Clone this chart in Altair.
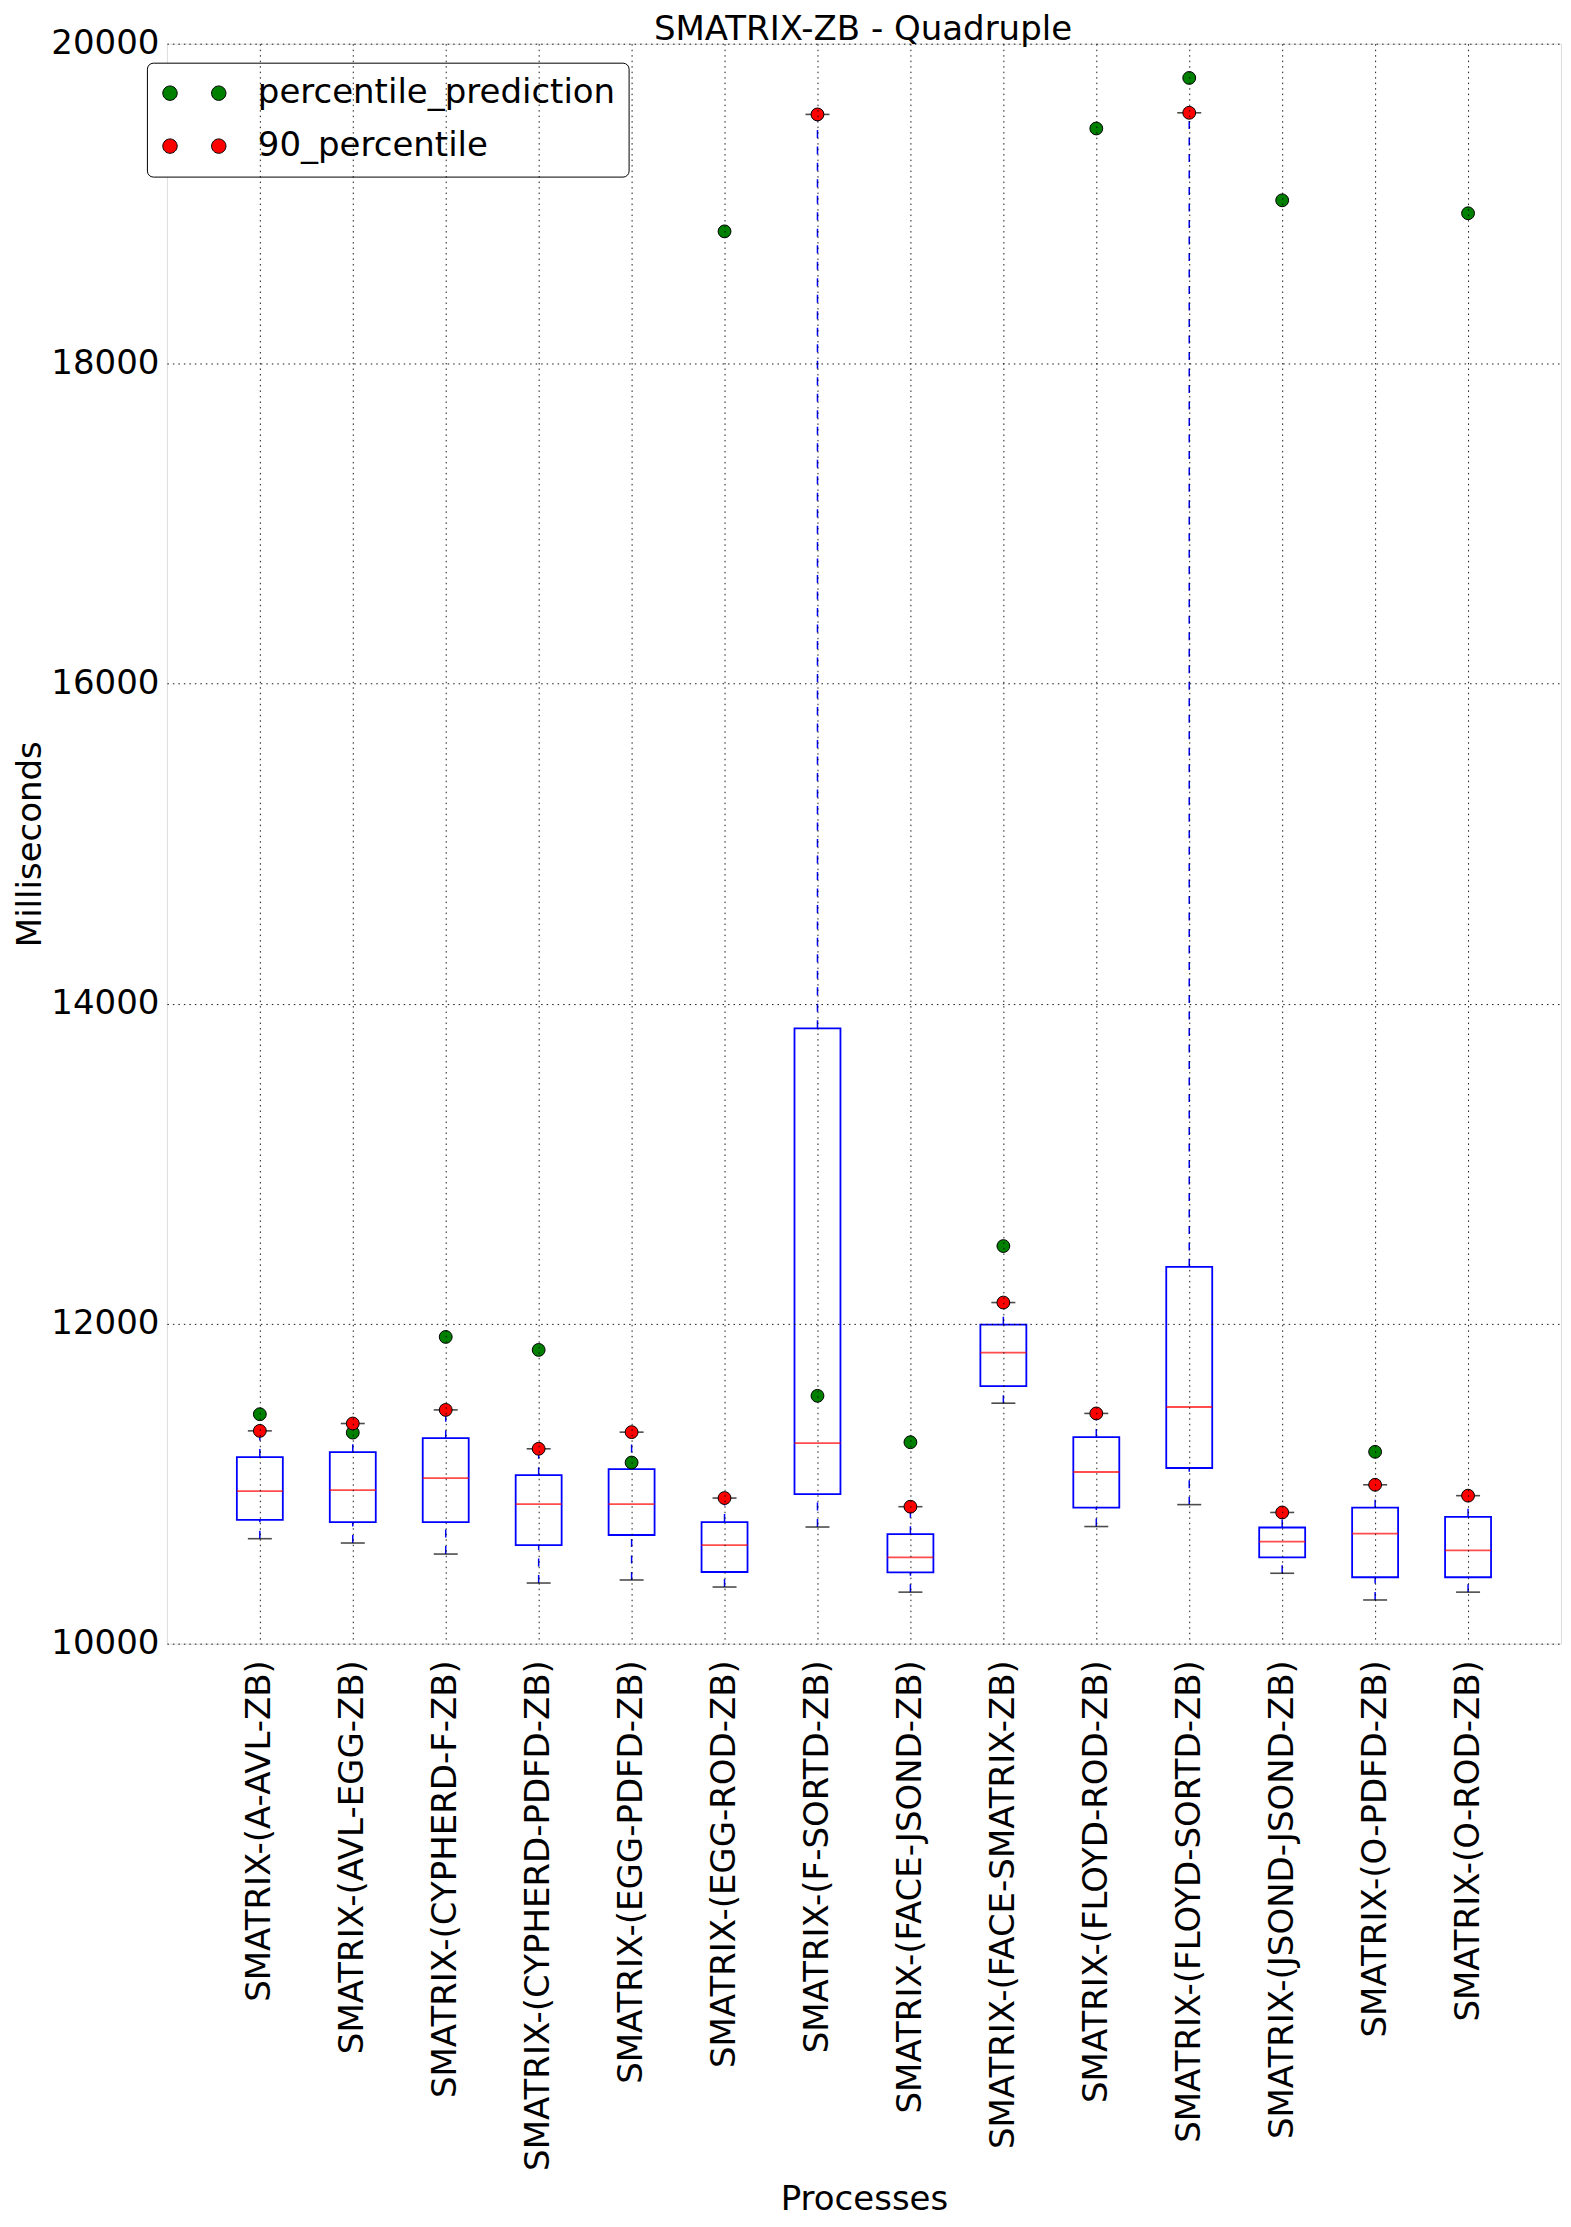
import altair as alt
import pandas as pd

chart_title = "SMATRIX-ZB - Quadruple"
categories = [
    "SMATRIX-(A-AVL-ZB)", "SMATRIX-(AVL-EGG-ZB)", "SMATRIX-(CYPHERD-F-ZB)",
    "SMATRIX-(CYPHERD-PDFD-ZB)", "SMATRIX-(EGG-PDFD-ZB)", "SMATRIX-(EGG-ROD-ZB)",
    "SMATRIX-(F-SORTD-ZB)", "SMATRIX-(FACE-JSOND-ZB)", "SMATRIX-(FACE-SMATRIX-ZB)",
    "SMATRIX-(FLOYD-ROD-ZB)", "SMATRIX-(FLOYD-SORTD-ZB)", "SMATRIX-(JSOND-JSOND-ZB)",
    "SMATRIX-(O-PDFD-ZB)", "SMATRIX-(O-ROD-ZB)",
]
whisker_low = [10656, 10629, 10560, 10379, 10398, 10354, 10729, 10322, 11503, 10732, 10869, 10440, 10273, 10322]
q1 = [10774, 10760, 10760, 10616, 10679, 10448, 10935, 10446, 11609, 10850, 11098, 10539, 10415, 10415]
median = [10953, 10960, 11034, 10872, 10872, 10616, 11253, 10539, 11819, 11073, 11479, 10638, 10688, 10583]
q3 = [11166, 11197, 11284, 11053, 11091, 10760, 13846, 10684, 11994, 11291, 12355, 10726, 10850, 10793]
p90 = [11330, 11376, 11461, 11218, 11322, 10910, 19558, 10856, 12132, 11439, 19568, 10820, 10993, 10925]
prediction = [11434, 11319, 11917, 11836, 11132, 18827, 11549, 11259, 12485, 19470, 19786, 19021, 11199, 18940]
series_names = ["percentile_prediction", "90_percentile"]
series_colors = ["#008000", "#ff0000"]
y_ticks = [10000, 12000, 14000, 16000, 18000, 20000]

FONT = "DejaVu Sans"
FS = 34
W, H = 1395, 1601

box_df = pd.DataFrame({
    "process": categories, "low": whisker_low, "q1": q1,
    "median": median, "q3": q3, "p90": p90,
})
pts_df = pd.DataFrame({
    "process": categories + categories,
    "value": prediction + p90,
    "series": [series_names[0]] * len(categories) + [series_names[1]] * len(categories),
})
title_df = pd.DataFrame({"t": [chart_title]})

x_enc = alt.X(
    "process:N", sort=categories,
    scale=alt.Scale(type="point", padding=1),
    axis=alt.Axis(
        title="Processes", labelAngle=-90, labelPadding=16, tickSize=0,
        labelLimit=0, labelOverlap=False, domain=False, grid=True,
        gridColor="black", gridDash=[1.5, 4], gridWidth=1, gridOpacity=0.9,
        labelFont=FONT, labelFontSize=FS, labelColor="black",
        titleFont=FONT, titleFontSize=FS, titleFontWeight="normal",
        titleColor="black", titleBaseline="alphabetic", titleY=566,
        titleX=W / 2, zindex=1,
    ),
)
y_scale = alt.Scale(domain=[10000, 20000], nice=False, zero=False)
y_axis = alt.Axis(
    title="Milliseconds", values=y_ticks, format="d", labelPadding=8,
    tickSize=0, domain=False, grid=True, gridColor="black",
    gridDash=[1.5, 4], gridWidth=1, gridOpacity=0.9,
    labelFont=FONT, labelFontSize=FS, labelColor="black",
    titleFont=FONT, titleFontSize=FS, titleFontWeight="normal",
    titleColor="black", titleBaseline="alphabetic", titleAngle=270,
    titleX=-126, titleY=H / 2, zindex=1,
)

base = alt.Chart(box_df)

lower_whisker = base.mark_rule(color="#0000ff", strokeWidth=1.5, strokeDash=[8, 8.5]).encode(
    x=x_enc, y=alt.Y("low:Q", scale=y_scale, axis=y_axis), y2="q1:Q")
upper_whisker = base.mark_rule(color="#0000ff", strokeWidth=1.5, strokeDash=[8, 8.5]).encode(
    x=x_enc, y=alt.Y("q3:Q", scale=y_scale, axis=y_axis), y2="p90:Q")
boxes = base.mark_bar(size=46, color="#0000ff", fillOpacity=0, stroke="#0000ff", strokeWidth=1.8).encode(
    x=x_enc, y=alt.Y("q1:Q", scale=y_scale, axis=y_axis), y2="q3:Q")
medians = base.mark_tick(color="#ff0000", size=46, thickness=1.8).encode(
    x=x_enc, y=alt.Y("median:Q", scale=y_scale, axis=y_axis))
low_caps = base.mark_tick(color="black", size=24, thickness=1.6).encode(
    x=x_enc, y=alt.Y("low:Q", scale=y_scale, axis=y_axis))
high_caps = base.mark_tick(color="black", size=24, thickness=1.6).encode(
    x=x_enc, y=alt.Y("p90:Q", scale=y_scale, axis=y_axis))

# two dots per legend entry (matplotlib numpoints=2 look)
two_dots = ("M -1.8585 0 A 0.4235 0.4235 0 1 0 -1.0115 0 A 0.4235 0.4235 0 1 0 -1.8585 0 Z "
            "M 1.0115 0 A 0.4235 0.4235 0 1 0 1.8585 0 A 0.4235 0.4235 0 1 0 1.0115 0 Z")

points = alt.Chart(pts_df).mark_point(
    filled=True, shape="circle", size=165, stroke="black", strokeWidth=1, opacity=1
).encode(
    x=x_enc,
    y=alt.Y("value:Q", scale=y_scale, axis=y_axis),
    color=alt.Color(
        "series:N",
        scale=alt.Scale(domain=series_names, range=series_colors),
        legend=alt.Legend(
            title=None, orient="none", legendX=-20, legendY=19,
            symbolType=two_dots, symbolSize=1156, symbolStrokeColor="black",
            symbolStrokeWidth=1, symbolOpacity=1, symbolOffset=17,
            labelFont=FONT, labelFontSize=FS, labelColor="black", labelOffset=46,
            labelLimit=0, labelExpr="datum.label + '\u00a0'", rowPadding=18, padding=13,
            fillColor="white", strokeColor="black", cornerRadius=6,
        ),
    ),
)

title_mark = alt.Chart(title_df).mark_text(
    font=FONT, fontSize=FS, color="black", align="center", baseline="alphabetic"
).encode(
    x=alt.value(W / 2 - 1), y=alt.value(-3.5), text="t:N"
)

chart = alt.layer(
    lower_whisker, upper_whisker, boxes, medians, low_caps, high_caps, points, title_mark
).properties(
    width=W, height=H,
    padding={"left": 159, "top": 35, "right": 2, "bottom": 576},
    autosize=alt.AutoSizeParams(type="none"),
).configure_view(
    stroke="black", strokeWidth=2
).configure(background="white")

chart.save("out.html", embed_options={"renderer": "svg", "actions": False})
